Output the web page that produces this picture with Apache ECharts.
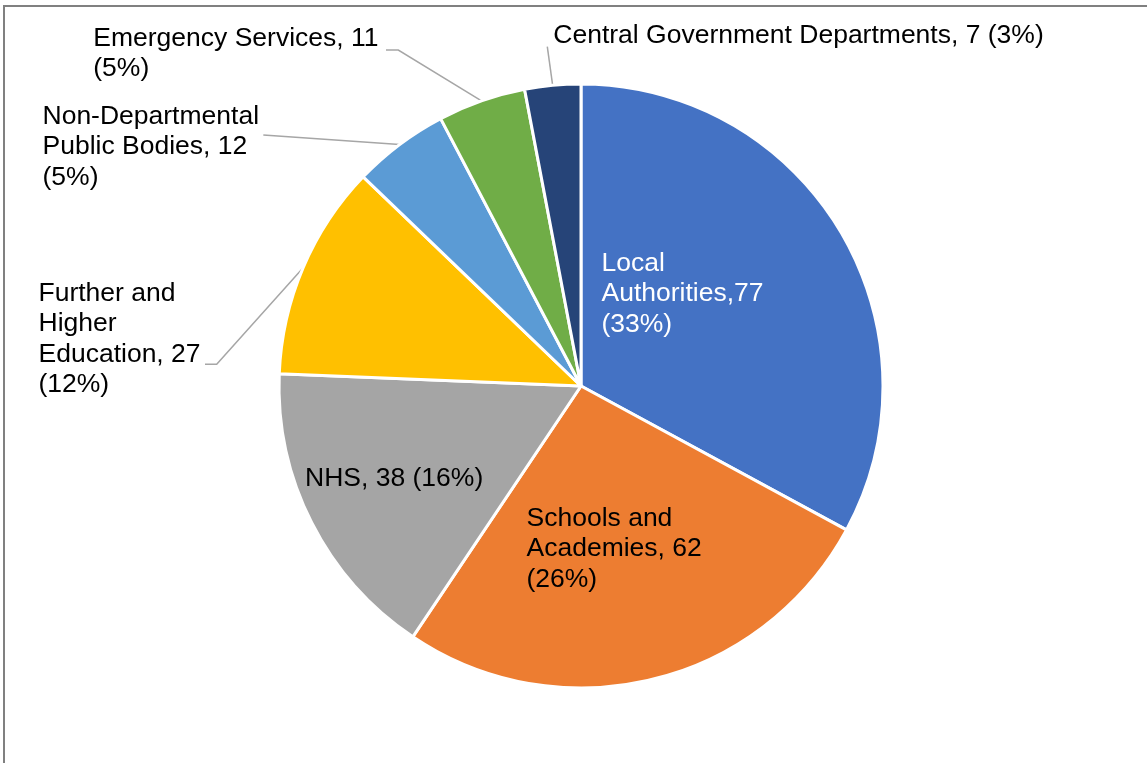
<!DOCTYPE html>
<html>
<head>
<meta charset="utf-8">
<script src="https://cdn.jsdelivr.net/npm/echarts@6/dist/echarts.min.js"></script>
<style>
  html, body { margin: 0; padding: 0; background: #ffffff; }
  #chart { width: 1147px; height: 763px; }
</style>
</head>
<body>
<div id="chart"></div>
<script>
// Organisation types and their counts, in clockwise order from 12 o'clock
const categories = [
  'Local Authorities',
  'Schools and Academies',
  'NHS',
  'Further and Higher Education',
  'Non-Departmental Public Bodies',
  'Emergency Services',
  'Central Government Departments'
];
const counts = [77, 62, 38, 27, 12, 11, 7];
const colors = ['#4472C4', '#ED7D31', '#A5A5A5', '#FFC000', '#5B9BD5', '#70AD47', '#264478'];

// Label wording with its line breaks; {v} = count, {p} = percentage
const labelTemplates = [
  'Local\nAuthorities,{v}\n({p}%)',
  'Schools and\nAcademies, {v}\n({p}%)',
  'NHS, {v} ({p}%)',
  'Further and\nHigher\nEducation, {v}\n({p}%)',
  'Non-Departmental\nPublic Bodies, {v}\n({p}%)',
  'Emergency Services, {v}\n({p}%)',
  'Central Government Departments, {v} ({p}%)'
];

// Pie geometry
const CENTER = [581, 386];
const RADIUS = 302;

// Where each label sits (top-left of its text block), whether it is drawn
// inside its slice, and the leader-line bend/end points for outside labels
const labelPlacement = [
  { x: 601.5, y: 248.5, inside: true, color: '#ffffff' },
  { x: 526.5, y: 503.5, inside: true, color: '#000000' },
  { x: 305, y: 463.5, inside: true, color: '#000000' },
  { x: 38.5, y: 278.5, line: [[216.7, 364.3], [205, 364.3]] },
  { x: 42.5, y: 101.5, line: [[263.3, 135], [263.3, 135]] },
  { x: 93.3, y: 23.5, line: [[398.3, 50], [386, 50]] },
  { x: 553.3, y: 20.5, line: [[547.3, 46.7], [547.3, 46.7]] }
];

const total = counts.reduce((a, b) => a + b, 0);

// Outer-edge point at the middle angle of a slice (used if the series gives none)
function sliceAnchor(i) {
  let before = 0;
  for (let k = 0; k < i; k++) before += counts[k];
  const frac = (before + counts[i] / 2) / total;
  const ang = frac * Math.PI * 2;
  return [CENTER[0] + RADIUS * Math.sin(ang), CENTER[1] - RADIUS * Math.cos(ang)];
}

const FONT = "'Liberation Sans', Arial, sans-serif";

const data = categories.map((name, i) => {
  const place = labelPlacement[i];
  return {
    name: name,
    value: counts[i],
    itemStyle: { color: colors[i] },
    label: {
      position: place.inside ? 'inside' : 'outside',
      color: place.color || '#000000'
    },
    labelLine: { show: !place.inside }
  };
});

const chart = echarts.init(document.getElementById('chart'), null, { renderer: 'canvas' });

chart.setOption({
  backgroundColor: '#ffffff',
  animation: false,
  graphic: [{
    type: 'rect',
    shape: { x: 4, y: 6, width: 1300, height: 900 },
    style: { fill: 'none', stroke: '#808080', lineWidth: 2 },
    silent: true
  }],
  series: [{
    type: 'pie',
    center: CENTER,
    radius: RADIUS,
    startAngle: 90,
    clockwise: true,
    avoidLabelOverlap: false,
    data: data,
    itemStyle: { borderColor: '#ffffff', borderWidth: 3 },
    label: {
      show: true,
      fontFamily: FONT,
      fontSize: 26.5,
      lineHeight: 30.3,
      align: 'left',
      formatter: function (p) {
        const pct = Math.round(p.value / total * 100);
        return labelTemplates[p.dataIndex].replace('{v}', p.value).replace('{p}', pct);
      }
    },
    labelLine: {
      lineStyle: { color: '#A6A6A6', width: 1.5 }
    },
    labelLayout: function (p) {
      const place = labelPlacement[p.dataIndex];
      const out = { x: place.x, y: place.y, align: 'left', verticalAlign: 'top' };
      if (place.line) {
        const anchor = (p.labelLinePoints && p.labelLinePoints.length)
          ? p.labelLinePoints[0] : sliceAnchor(p.dataIndex);
        out.labelLinePoints = [anchor].concat(place.line);
      }
      return out;
    },
    emphasis: { disabled: true }
  }]
});
</script>
</body>
</html>
